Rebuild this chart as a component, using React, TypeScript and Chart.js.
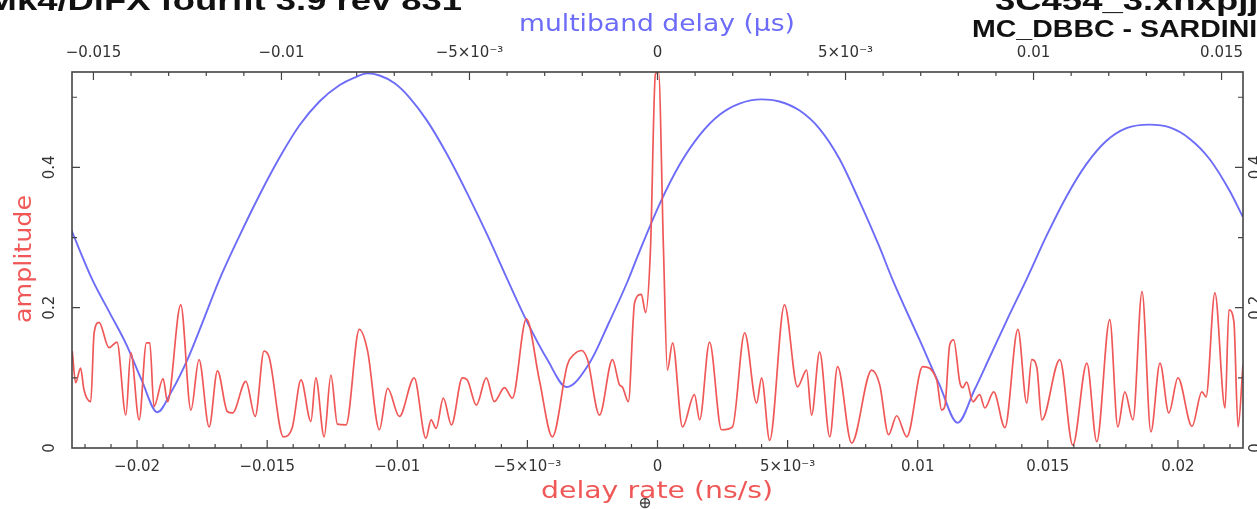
import React, { useEffect, useRef } from 'react';
import { Chart, registerables } from 'chart.js';
Chart.register(...registerables);

// delay rate (ns/s) vs amplitude — red trace
const rateDelay = [
  -22.49e-3, -22.36e-3, -22.17e-3, -22.04e-3, -21.78e-3, -21.65e-3, -21.46e-3, -21.08e-3, -20.77e-3, -20.43e-3,
  -20.24e-3, -19.92e-3, -19.64e-3, -19.51e-3, -19.35e-3, -19.0e-3, -18.83e-3, -18.32e-3, -17.93e-3, -17.62e-3,
  -17.23e-3, -16.91e-3, -16.53e-3, -16.33e-3, -15.82e-3, -15.46e-3, -15.12e-3, -14.92e-3, -14.38e-3, -14.03e-3,
  -13.7e-3, -13.32e-3, -13.13e-3, -12.81e-3, -12.55e-3, -12.3e-3, -11.97e-3, -11.46e-3, -11.14e-3, -10.69e-3,
  -10.37e-3, -9.92e-3, -9.35e-3, -8.9e-3, -8.7e-3, -8.51e-3, -8.23e-3, -7.92e-3, -7.5e-3, -7.31e-3,
  -6.96e-3, -6.58e-3, -6.27e-3, -5.88e-3, -5.58e-3, -5.04e-3, -4.54e-3, -4.04e-3, -3.46e-3, -3.19e-3,
  -2.92e-3, -2.69e-3, -2.23e-3, -1.73e-3, -1.46e-3, -1.35e-3, -1.12e-3, -0.88e-3, -0.62e-3, -0.46e-3,
  -0.27e-3, -0.08e-3, 0.04e-3, 0.23e-3, 0.38e-3, 0.58e-3, 0.96e-3, 1.42e-3, 1.62e-3, 2.0e-3,
  2.46e-3, 2.88e-3, 3.35e-3, 3.81e-3, 4.0e-3, 4.31e-3, 4.88e-3, 5.38e-3, 5.73e-3, 5.92e-3,
  6.23e-3, 6.62e-3, 6.92e-3, 7.46e-3, 8.23e-3, 8.54e-3, 8.88e-3, 9.19e-3, 9.58e-3, 10.19e-3,
  10.73e-3, 10.92e-3, 11.04e-3, 11.23e-3, 11.38e-3, 11.62e-3, 11.73e-3, 11.88e-3, 12.12e-3, 12.38e-3,
  12.58e-3, 12.92e-3, 13.35e-3, 13.85e-3, 14.19e-3, 14.38e-3, 14.58e-3, 14.77e-3, 15.46e-3, 15.96e-3,
  16.5e-3, 16.88e-3, 17.38e-3, 17.69e-3, 17.96e-3, 18.27e-3, 18.62e-3, 18.96e-3, 19.31e-3, 19.65e-3,
  20.0e-3, 20.54e-3, 20.92e-3, 21.08e-3, 21.42e-3, 21.81e-3, 21.96e-3, 22.15e-3, 22.31e-3, 22.5e-3,
];
const rateAmp = [
  0.138, 0.093, 0.114, 0.083, 0.066, 0.164, 0.179, 0.143, 0.151, 0.047,
  0.136, 0.04, 0.15, 0.15, 0.059, 0.099, 0.066, 0.204, 0.054, 0.126,
  0.03, 0.11, 0.052, 0.05, 0.095, 0.045, 0.138, 0.129, 0.016, 0.03,
  0.097, 0.038, 0.1, 0.016, 0.104, 0.034, 0.033, 0.169, 0.138, 0.026,
  0.085, 0.045, 0.1, 0.014, 0.04, 0.028, 0.071, 0.033, 0.1, 0.097,
  0.061, 0.1, 0.066, 0.086, 0.071, 0.184, 0.097, 0.016, 0.119, 0.134,
  0.139, 0.126, 0.047, 0.126, 0.09, 0.087, 0.066, 0.207, 0.219, 0.193,
  0.283, 0.533, 0.536, 0.283, 0.111, 0.15, 0.03, 0.076, 0.04, 0.151,
  0.026, 0.03, 0.164, 0.064, 0.1, 0.011, 0.204, 0.087, 0.111, 0.047,
  0.137, 0.016, 0.116, 0.007, 0.111, 0.09, 0.019, 0.046, 0.016, 0.116,
  0.097, 0.054, 0.059, 0.147, 0.154, 0.093, 0.086, 0.094, 0.066, 0.076,
  0.057, 0.08, 0.029, 0.169, 0.064, 0.126, 0.114, 0.04, 0.126, 0.004,
  0.121, 0.009, 0.183, 0.03, 0.08, 0.04, 0.223, 0.023, 0.121, 0.05,
  0.1, 0.031, 0.08, 0.073, 0.221, 0.057, 0.197, 0.18, 0.03, 0.119,
];

// multiband delay (μs) vs amplitude — blue trace
const mbdDelay = [
  -15.59e-3, -15.03e-3, -14.57e-3, -14.12e-3, -13.72e-3, -13.3e-3, -12.93e-3, -12.5e-3, -12.07e-3, -11.65e-3,
  -11.12e-3, -10.59e-3, -10.05e-3, -9.52e-3, -8.99e-3, -8.46e-3, -8.06e-3, -7.71e-3, -7.39e-3, -6.99e-3,
  -6.6e-3, -6.12e-3, -5.59e-3, -5.05e-3, -4.52e-3, -3.99e-3, -3.46e-3, -2.93e-3, -2.42e-3, -1.81e-3,
  -1.28e-3, -0.8e-3, -0.48e-3, 0.05e-3, 0.59e-3, 1.12e-3, 1.65e-3, 2.18e-3, 2.77e-3, 3.24e-3,
  3.78e-3, 4.31e-3, 4.84e-3, 5.37e-3, 5.9e-3, 6.25e-3, 6.97e-3, 7.5e-3, 7.98e-3, 8.43e-3,
  8.83e-3, 9.36e-3, 9.81e-3, 10.35e-3, 10.88e-3, 11.41e-3, 11.94e-3, 12.47e-3, 13.09e-3, 13.62e-3,
  14.15e-3, 14.68e-3, 15.21e-3, 15.56e-3,
];
const mbdAmp = [
  0.311, 0.24, 0.193, 0.147, 0.097, 0.051, 0.08, 0.126, 0.183, 0.24,
  0.302, 0.36, 0.414, 0.46, 0.494, 0.517, 0.528, 0.534, 0.531, 0.52,
  0.5, 0.466, 0.418, 0.362, 0.303, 0.24, 0.179, 0.126, 0.087, 0.121,
  0.18, 0.237, 0.28, 0.347, 0.404, 0.446, 0.475, 0.491, 0.497, 0.494,
  0.481, 0.455, 0.412, 0.352, 0.287, 0.24, 0.154, 0.09, 0.036, 0.083,
  0.129, 0.19, 0.24, 0.303, 0.359, 0.405, 0.438, 0.456, 0.461, 0.457,
  0.441, 0.412, 0.367, 0.33,
];

const rateTicks = [-0.02, -0.015, -0.01, -0.005, 0, 0.005, 0.01, 0.015, 0.02];
const rateTickLabels = ['−0.02', '−0.015', '−0.01', '−5×10⁻³', '0', '5×10⁻³', '0.01', '0.015', '0.02'];
const mbdTicks = [-0.015, -0.01, -0.005, 0, 0.005, 0.01, 0.015];
const mbdTickLabels = ['−0.015', '−0.01', '−5×10⁻³', '0', '5×10⁻³', '0.01', '0.015'];
const ampTicks = [0, 0.2, 0.4];
const ampTickLabels = ['0', '0.2', '0.4'];

const RED = 'rgb(240, 88, 88)';
const BLUE = 'rgb(108, 108, 248)';
const AXIS = '#444';
const TICKTXT = '#333';

type TextOpts = { font: string; color: string; align?: 'left' | 'center' | 'right'; width?: number; sx?: number; rotate?: boolean };
function drawText(ctx: CanvasRenderingContext2D, text: string, x: number, y: number, o: TextOpts) {
  ctx.save();
  ctx.font = o.font;
  ctx.fillStyle = o.color;
  ctx.textBaseline = 'alphabetic';
  ctx.textAlign = 'left';
  const w = ctx.measureText(text).width;
  const sx = o.width ? o.width / w : o.sx ?? 1;
  ctx.translate(x, y);
  if (o.rotate) ctx.rotate(-Math.PI / 2);
  ctx.scale(sx, 1);
  const start = o.align === 'center' ? -w / 2 : o.align === 'right' ? -w : 0;
  ctx.fillText(text, start, 0);
  ctx.restore();
}

const framePlugin = {
  id: 'framePlugin',
  afterDraw(chart: any) {
    const ctx: CanvasRenderingContext2D = chart.ctx;
    const { left, right, top, bottom } = chart.chartArea;
    const sx = chart.scales.x;
    const sx2 = chart.scales.x2;
    const sy = chart.scales.y;
    ctx.save();
    ctx.strokeStyle = AXIS;
    ctx.lineWidth = 1.6;
    ctx.strokeRect(left, top, right - left, bottom - top);
    ctx.lineWidth = 1.2;
    ctx.beginPath();
    for (let k = -22; k <= 22; k++) {
      const p = sx.getPixelForValue(k * 0.001);
      const len = k % 5 === 0 ? 8 : 4;
      ctx.moveTo(p, bottom);
      ctx.lineTo(p, bottom - len);
    }
    for (let k = -15; k <= 15; k++) {
      const p = sx2.getPixelForValue(k * 0.001);
      const len = k % 5 === 0 ? 8 : 4;
      ctx.moveTo(p, top);
      ctx.lineTo(p, top + len);
    }
    for (let k = 1; k <= 5; k++) {
      const p = sy.getPixelForValue(k * 0.1);
      const len = k % 2 === 0 ? 8 : 5;
      ctx.moveTo(left, p);
      ctx.lineTo(left + len, p);
      ctx.moveTo(right, p);
      ctx.lineTo(right - len, p);
    }
    ctx.stroke();
    // earth symbol
    ctx.lineWidth = 1.3;
    ctx.strokeStyle = '#444';
    ctx.beginPath();
    ctx.arc(645, 503, 4.5, 0, Math.PI * 2);
    ctx.moveTo(640.5, 503);
    ctx.lineTo(649.5, 503);
    ctx.moveTo(645, 498.5);
    ctx.lineTo(645, 507.5);
    ctx.stroke();
    ctx.restore();

    // rotated amplitude tick labels (left and right)
    ampTicks.forEach((v, i) => {
      const p = sy.getPixelForValue(v);
      drawText(ctx, ampTickLabels[i], 54, p, { font: '15px "DejaVu Sans"', color: TICKTXT, align: 'center', rotate: true });
      drawText(ctx, ampTickLabels[i], 1260, p, { font: '15px "DejaVu Sans"', color: TICKTXT, align: 'center', rotate: true });
    });

    // axis titles
    drawText(ctx, 'multiband delay (μs)', 657, 31, { font: '23px "DejaVu Sans"', color: BLUE, align: 'center', width: 276 });
    drawText(ctx, 'delay rate (ns/s)', 657, 498, { font: '23px "DejaVu Sans"', color: RED, align: 'center', width: 232 });
    drawText(ctx, 'amplitude', 31, 259, { font: '23px "DejaVu Sans"', color: RED, align: 'center', width: 128, rotate: true });

    // titles
    drawText(ctx, 'Mk4/DiFX fourfit 3.9 rev 831', 462, 10, { font: 'bold 28px "Liberation Sans"', color: '#111', align: 'right', sx: 1.3 });
    drawText(ctx, '3C454_3.xnxpjj', 995, 10, { font: 'bold 27px "Liberation Sans"', color: '#111', sx: 1.35 });
    drawText(ctx, 'MC_DBBC - SARDINIA', 972, 37, { font: 'bold 23px "Liberation Sans"', color: '#111', sx: 1.24 });
  },
};

export default function App() {
  const ref = useRef<HTMLCanvasElement | null>(null);
  useEffect(() => {
    if (!ref.current) return;
    const tickFont = { family: '"DejaVu Sans"', size: 15 };
    const chart = new Chart(ref.current, {
      type: 'line',
      data: {
        datasets: [
          {
            label: 'delay rate',
            data: rateDelay.map((x, i) => ({ x, y: rateAmp[i] })),
            xAxisID: 'x',
            yAxisID: 'y',
            borderColor: RED,
            borderWidth: 1.7,
            pointRadius: 0,
            cubicInterpolationMode: 'monotone',
            fill: false,
            order: 0,
          },
          {
            label: 'multiband delay',
            data: mbdDelay.map((x, i) => ({ x, y: mbdAmp[i] })),
            xAxisID: 'x2',
            yAxisID: 'y',
            borderColor: BLUE,
            borderWidth: 1.9,
            pointRadius: 0,
            cubicInterpolationMode: 'monotone',
            fill: false,
            order: 1,
          },
        ],
      },
      options: {
        animation: false,
        responsive: false,
        maintainAspectRatio: false,
        layout: { padding: 0 },
        plugins: { legend: { display: false }, tooltip: { enabled: false }, title: { display: false } },
        scales: {
          x: {
            type: 'linear',
            position: 'bottom',
            min: -0.0225,
            max: 0.0225,
            grid: { display: false, drawTicks: false },
            border: { display: false },
            ticks: {
              autoSkip: false,
              maxRotation: 0,
              minRotation: 0,
              padding: 10,
              color: TICKTXT,
              font: tickFont,
              callback: (_v: any, i: number) => rateTickLabels[i],
            },
            afterBuildTicks: (s: any) => {
              s.ticks = rateTicks.map((v) => ({ value: v }));
            },
            afterFit: (s: any) => {
              s.height = 61;
            },
          },
          x2: {
            type: 'linear',
            position: 'top',
            min: -0.01557,
            max: 0.01557,
            grid: { display: false, drawTicks: false },
            border: { display: false },
            ticks: {
              autoSkip: false,
              maxRotation: 0,
              minRotation: 0,
              padding: 10,
              color: TICKTXT,
              font: tickFont,
              callback: (_v: any, i: number) => mbdTickLabels[i],
            },
            afterBuildTicks: (s: any) => {
              s.ticks = mbdTicks.map((v) => ({ value: v }));
            },
            afterFit: (s: any) => {
              s.height = 72;
            },
          },
          y: {
            type: 'linear',
            position: 'left',
            min: 0,
            max: 0.536,
            grid: { display: false, drawTicks: false },
            border: { display: false },
            ticks: { display: false },
            afterFit: (s: any) => {
              s.width = 72;
            },
          },
          y2: {
            type: 'linear',
            position: 'right',
            min: 0,
            max: 0.536,
            grid: { display: false, drawTicks: false },
            border: { display: false },
            ticks: { display: false },
            afterFit: (s: any) => {
              s.width = 14;
            },
          },
        },
      } as any,
      plugins: [framePlugin],
    });
    return () => chart.destroy();
  }, []);
  return (
    <div style={{ position: 'fixed', left: 0, top: 0, width: 1257, height: 509, background: '#fff' }}>
      <canvas ref={ref} width={1257} height={509} style={{ display: 'block', width: 1257, height: 509 }} />
    </div>
  );
}
